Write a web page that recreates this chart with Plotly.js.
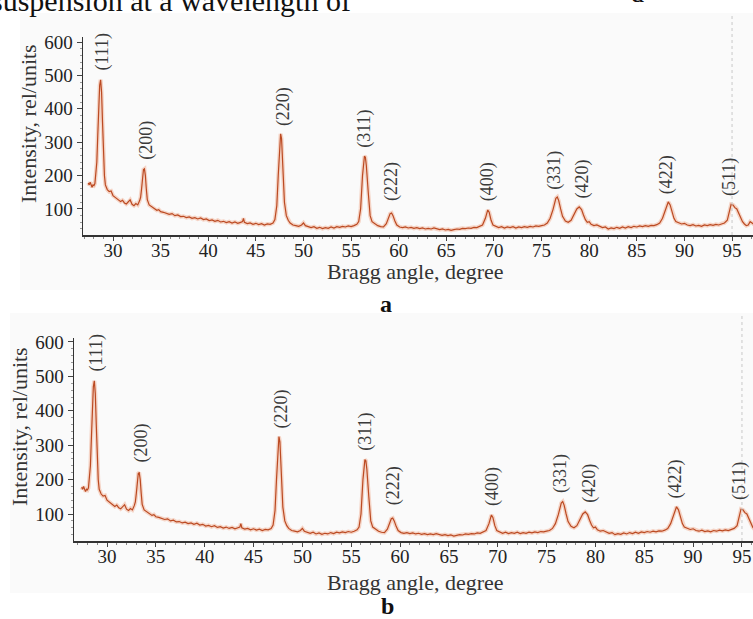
<!DOCTYPE html>
<html>
<head>
<meta charset="utf-8">
<script src="https://cdn.plot.ly/plotly-3.0.1.min.js"></script>
<style>html,body{margin:0;padding:0;background:#fff;}#chart{width:753px;height:619px;}</style>
</head>
<body>
<div id="chart"></div>
<script>
// Bragg angle (degree)
const angle = [
27.4,27.5,27.6,27.7,27.8,27.9,28.0,28.1,28.2,28.3,28.4,28.5,28.6,28.7,28.8,28.9,29.0,29.1,29.2,29.4,
29.6,29.8,30.0,30.2,30.4,30.6,30.8,31.0,31.2,31.4,31.6,31.8,32.0,32.2,32.4,32.6,32.8,32.9,33.0,33.1,
33.2,33.3,33.4,33.5,33.6,33.8,34.0,34.2,34.4,34.6,34.8,35.0,35.3,35.6,35.9,36.2,36.5,36.8,37.1,37.4,
37.7,38.0,38.3,38.6,38.9,39.2,39.5,39.8,40.1,40.4,40.7,41.0,41.3,41.6,41.9,42.2,42.5,42.8,43.1,43.4,
43.6,43.7,43.8,44.1,44.4,44.7,45.0,45.3,45.6,45.9,46.2,46.5,46.8,47.0,47.2,47.35,47.5,47.6,47.7,47.85,
48.0,48.2,48.4,48.6,48.9,49.2,49.5,49.8,50.0,50.2,50.5,50.8,51.1,51.4,51.7,52.0,52.3,52.6,52.9,53.2,
53.5,53.8,54.1,54.4,54.7,55.0,55.3,55.6,55.8,56.0,56.2,56.4,56.5,56.6,56.8,57.0,57.2,57.5,57.8,58.1,
58.4,58.7,58.9,59.1,59.25,59.4,59.6,59.8,60.1,60.4,60.7,61.0,61.3,61.6,61.9,62.2,62.5,62.8,63.1,63.4,
63.7,64.0,64.3,64.6,64.9,65.2,65.5,65.8,66.1,66.4,66.7,67.0,67.3,67.6,67.9,68.2,68.5,68.8,69.1,69.35,
69.5,69.7,69.9,70.2,70.5,70.8,71.1,71.4,71.7,72.0,72.3,72.6,72.9,73.2,73.5,73.8,74.1,74.4,74.7,75.0,
75.3,75.6,75.9,76.2,76.5,76.65,76.8,77.0,77.2,77.5,77.8,78.1,78.4,78.7,78.95,79.2,79.4,79.6,79.8,80.0,
80.2,80.5,80.8,81.1,81.4,81.7,82.0,82.3,82.6,82.9,83.2,83.5,83.8,84.1,84.4,84.7,85.0,85.3,85.6,85.9,
86.2,86.5,86.8,87.1,87.4,87.7,88.0,88.3,88.5,88.7,88.9,89.1,89.4,89.7,90.0,90.3,90.6,90.9,91.2,91.5,
91.8,92.1,92.4,92.7,93.0,93.3,93.6,93.9,94.2,94.5,94.7,94.9,95.1,95.3,95.5,95.7,95.9,96.1,96.3,96.5,
96.7,96.9,97.1,97.3
];
// Intensity (rel. units)
const intensity = [
178,172,180,168,165,172,170,176,200,240,320,410,470,487,450,360,260,200,172,158,
152,154,140,136,130,128,122,126,118,115,120,127,114,110,116,112,125,135,160,195,
218,220,200,160,128,112,108,104,102,96,98,92,90,88,84,86,80,82,77,78,
74,76,72,74,70,73,68,70,65,67,63,66,61,63,59,62,58,61,57,60,
62,72,60,56,58,54,57,53,56,52,55,54,58,68,110,200,300,325,310,220,
120,80,66,58,52,50,48,52,58,50,46,44,47,42,45,41,44,42,46,43,
47,45,48,46,49,47,50,54,62,100,200,258,255,230,150,80,62,55,50,47,
46,56,72,86,88,80,64,52,46,44,46,43,45,42,44,41,43,40,42,40,
43,40,38,40,37,39,36,38,40,39,42,41,43,42,45,44,47,52,72,97,
90,66,52,47,44,47,43,46,44,47,43,46,44,47,45,48,46,49,48,50,
52,58,72,98,132,136,125,100,78,64,60,66,82,100,106,98,82,68,60,62,
54,50,52,47,44,46,40,43,41,45,42,46,43,47,44,48,46,49,47,50,
48,51,50,53,58,72,98,121,112,92,72,62,58,55,57,52,50,53,49,51,
48,52,50,53,51,54,52,56,58,66,90,114,112,104,100,86,72,62,55,50,
52,62,58,54
];
// Peak (hkl) labels and where they sit
const peakLabels = ["(111)","(200)","(220)","(311)","(222)","(400)","(331)","(420)","(422)","(511)"];
const labelAngle = [28.9,33.55,47.85,56.45,59.3,69.4,76.4,79.3,88.2,94.8];
const labelIntensity = [570,307,405,340,181,181,217,190,202,196];
const xTicks = [30,35,40,45,50,55,60,65,70,75,80,85,90,95];
const yTicks = [100,200,300,400,500,600];

const SERIF = "Liberation Serif, Times New Roman, serif";
const lineColor = "#bb4a22";
const haloColor = "rgba(236,140,100,0.35)";

function traces(xa, ya) {
  return [
    {x: angle, y: intensity, xaxis: xa, yaxis: ya, type: "scatter", mode: "lines",
     line: {color: haloColor, width: 4}, hoverinfo: "skip", showlegend: false},
    {x: angle, y: intensity, xaxis: xa, yaxis: ya, type: "scatter", mode: "lines",
     line: {color: lineColor, width: 1.2}, showlegend: false}
  ];
}
const data = traces("x", "y").concat(traces("x2", "y2"));

function xAxis(domain, range, anchor) {
  return {domain: domain, range: range, anchor: anchor, showgrid: false, zeroline: false,
    showline: true, linecolor: "#333", linewidth: 1.5, ticks: "outside", ticklen: 4,
    tickcolor: "#444", tickvals: xTicks, ticktext: xTicks.map(String),
    tickfont: {family: SERIF, size: 19, color: "#222"}, ticklabelstandoff: -6,
    minor: {dtick: 1, tick0: 0, ticks: "outside", ticklen: 2, tickcolor: "#888"},
    automargin: false};
}
function yAxis(domain, range, anchor) {
  return {domain: domain, range: range, anchor: anchor, showgrid: false, zeroline: false,
    showline: true, linecolor: "#333", linewidth: 1.5, ticks: "outside", ticklen: 5,
    tickcolor: "#444", tickvals: yTicks, ticktext: yTicks.map(String),
    tickfont: {family: SERIF, size: 19, color: "#222"},
    minor: {dtick: 20, tick0: 0, ticks: "outside", ticklen: 2, tickcolor: "#999"},
    automargin: false};
}

const W = 753, H = 619;
const px = v => v / W, py = v => (H - v) / H;

const annotations = [];
[["x","y"],["x2","y2"]].forEach(([xa, ya]) => {
  peakLabels.forEach((t, i) => annotations.push({
    text: t, x: labelAngle[i], y: labelIntensity[i], xref: xa, yref: ya,
    showarrow: false, textangle: -90, xanchor: "center", yanchor: "middle",
    font: {family: SERIF, size: 18, color: "#3a3a3a"}
  }));
});
function note(text, x, y, size, extra) {
  return Object.assign({text: text, x: px(x), y: py(y), xref: "paper", yref: "paper",
    showarrow: false, xanchor: "center", yanchor: "middle",
    font: {family: SERIF, size: size, color: "#333"}}, extra || {});
}
annotations.push(
  note("Intensity, rel/units", 28, 124, 22, {textangle: -90}),
  note("Intensity, rel/units", 20, 427, 22, {textangle: -90}),
  note("Bragg angle, degree", 416, 271, 22),
  note("Bragg angle, degree", 416, 582, 22),
  note("<b>a</b>", 386, 304, 24, {font: {family: SERIF, size: 24, color: "#111"}}),
  note("<b>b</b>", 387, 606, 24, {font: {family: SERIF, size: 24, color: "#111"}}),
  note("suspension at a wavelength of", -11, 1, 30,
       {xanchor: "left", font: {family: SERIF, size: 30, color: "#111"}}),
  note("d", 637, -7, 26, {font: {family: SERIF, size: 26, color: "#111"}})
);

const shapes = [
  {type: "rect", xref: "paper", yref: "paper", x0: px(20), x1: 1, y0: py(290), y1: py(13),
   fillcolor: "#fafafa", line: {width: 0}, layer: "below"},
  {type: "rect", xref: "paper", yref: "paper", x0: px(10), x1: 1, y0: py(593), y1: py(313),
   fillcolor: "#fafafa", line: {width: 0}, layer: "below"},
  {type: "line", xref: "x", yref: "paper", x0: 95, x1: 95, y0: py(235), y1: py(14),
   line: {color: "#c8c8c8", width: 1, dash: "dot"}},
  {type: "line", xref: "x2", yref: "paper", x0: 95, x1: 95, y0: py(541), y1: py(315),
   line: {color: "#c8c8c8", width: 1, dash: "dot"}}
];

const layout = {
  width: W, height: H, margin: {l: 0, r: 0, t: 0, b: 0},
  paper_bgcolor: "#ffffff", plot_bgcolor: "rgba(0,0,0,0)", showlegend: false,
  xaxis: xAxis([px(83), 1], [26.85, 97.2], "y"),
  yaxis: yAxis([py(235), py(37)], [22, 615], "x"),
  xaxis2: xAxis([px(74), 1], [26.62, 96.13], "y2"),
  yaxis2: yAxis([py(541), py(338)], [21.5, 611.6], "x2"),
  annotations: annotations, shapes: shapes
};

Plotly.newPlot("chart", data, layout, {staticPlot: true, displayModeBar: false});
</script>
</body>
</html>
